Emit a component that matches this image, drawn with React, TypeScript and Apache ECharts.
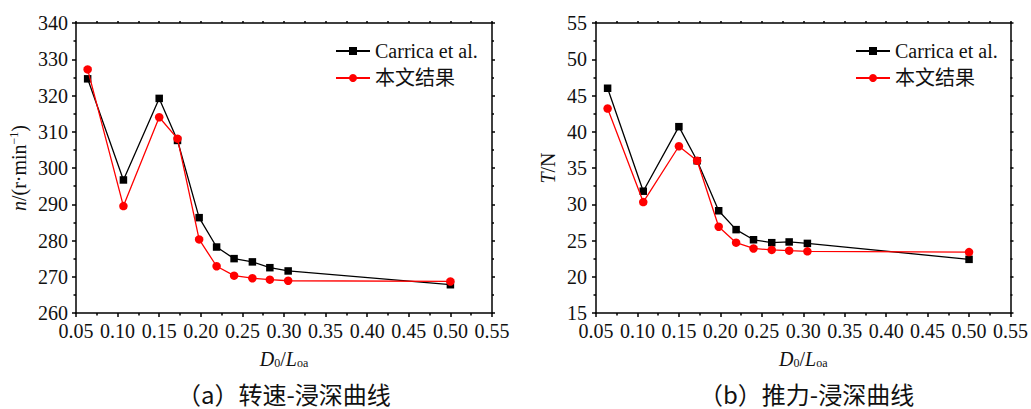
import React, { useEffect, useRef } from "react";
import * as echarts from "echarts";

const xValues = [0.064, 0.107, 0.150, 0.172, 0.198, 0.219, 0.240, 0.262, 0.283, 0.305, 0.500];
const speedCarrica = [324.6, 296.7, 319.2, 307.6, 286.3, 278.2, 275.0, 274.1, 272.5, 271.6, 267.8];
const speedOurs = [327.2, 289.5, 314.0, 308.1, 280.3, 272.9, 270.3, 269.6, 269.2, 268.9, 268.7];
const thrustCarrica = [46.0, 31.8, 40.7, 36.0, 29.1, 26.5, 25.1, 24.7, 24.8, 24.6, 22.4];
const thrustOurs = [43.2, 30.3, 38.0, 36.0, 26.9, 24.7, 23.9, 23.7, 23.6, 23.5, 23.4];
const seriesNames = ["Carrica et al.", "本文结果"];
const captions = ["（a）转速-浸深曲线", "（b）推力-浸深曲线"];

const SERIF = "'Times New Roman', 'Liberation Serif', serif";
const LEGEND_FONT = "'Times New Roman', 'Liberation Serif', 'Noto Sans CJK SC', serif";
const TXT = "#111";

function pts(ys: number[]) {
  return xValues.map((x, i) => [x, ys[i]]);
}

export default function App() {
  const ref = useRef<HTMLDivElement>(null);
  useEffect(() => {
    if (!ref.current) return;
    const chart = echarts.init(ref.current, null, { renderer: "svg" });
    const grids = [
      { left: 76, top: 23, width: 416, height: 290 },
      { left: 596, top: 23, width: 417, height: 290 },
    ];
    const lineStyle = { color: "#000", width: 1.5 };
    const xAxes: any[] = [];
    const yAxes: any[] = [];
    const yRanges = [
      { min: 260, max: 340, interval: 10 },
      { min: 15, max: 55, interval: 5 },
    ];
    grids.forEach((g, gi) => {
      xAxes.push({
        type: "value",
        gridIndex: gi,
        min: 0.05,
        max: 0.55,
        interval: 0.05,
        position: "bottom",
        axisLine: { show: true, onZero: false, lineStyle },
        axisTick: { show: true, inside: false, length: 4, lineStyle },
        minorTick: { show: true, splitNumber: 2, length: 2.5, lineStyle },
        splitLine: { show: false },
        axisLabel: {
          color: TXT,
          fontFamily: SERIF,
          fontSize: 20,
          lineHeight: 15,
          margin: 10,
          formatter: (v: number) => v.toFixed(2),
        },
        name: "{i|D}{s|0}{n|/}{i|L}{s|oa}",
        nameLocation: "middle",
        nameGap: 36,
        nameTextStyle: {
          rich: {
            i: { fontFamily: SERIF, fontStyle: "italic", fontSize: 20, color: TXT },
            n: { fontFamily: SERIF, fontSize: 20, color: TXT },
            s: { fontFamily: SERIF, fontSize: 12, color: TXT, verticalAlign: "bottom", padding: [8, 0, 0, 0] },
          },
        },
      });
      xAxes.push({
        type: "value",
        gridIndex: gi,
        min: 0.05,
        max: 0.55,
        interval: 0.05,
        position: "top",
        axisLine: { show: true, onZero: false, lineStyle },
        axisTick: { show: true, inside: false, length: 2, lineStyle },
        minorTick: { show: true, splitNumber: 2, length: 2, lineStyle },
        splitLine: { show: false },
        axisLabel: { show: false },
      });
      const r = yRanges[gi];
      yAxes.push({
        type: "value",
        gridIndex: gi,
        min: r.min,
        max: r.max,
        interval: r.interval,
        position: "left",
        axisLine: { show: true, onZero: false, lineStyle },
        axisTick: { show: true, inside: false, length: 4, lineStyle },
        minorTick: { show: true, splitNumber: 2, length: 2.5, lineStyle },
        splitLine: { show: false },
        axisLabel: { color: TXT, fontFamily: SERIF, fontSize: 20, lineHeight: 14, margin: gi === 0 ? 8 : 9 },
        name: gi === 0 ? "{i|n}{n|/(r·min}{p|−1}{n|)}" : "{i|T}{n|/N}",
        nameLocation: "middle",
        nameGap: gi === 0 ? 46 : 38,
        nameTextStyle: {
          rich: {
            i: { fontFamily: SERIF, fontStyle: "italic", fontSize: 20, color: TXT },
            n: { fontFamily: SERIF, fontSize: 20, color: TXT },
            p: { fontFamily: SERIF, fontSize: 12, color: TXT, verticalAlign: "top", padding: [0, 0, 10, 0] },
          },
        },
      });
      yAxes.push({
        type: "value",
        gridIndex: gi,
        min: r.min,
        max: r.max,
        interval: r.interval,
        position: "right",
        axisLine: { show: true, onZero: false, lineStyle },
        axisTick: { show: true, inside: false, length: 3, lineStyle },
        minorTick: { show: true, splitNumber: 2, length: 2, lineStyle },
        splitLine: { show: false },
        axisLabel: { show: false },
      });
    });

    const mk = (name: string, data: number[], gi: number, black: boolean) => ({
      type: "line",
      name,
      xAxisIndex: gi * 2,
      yAxisIndex: gi * 2,
      data: pts(data),
      symbol: black ? "rect" : "circle",
      symbolSize: black ? 7.5 : 8.5,
      showSymbol: true,
      lineStyle: { color: black ? "#000" : "#ff0000", width: 1.3 },
      itemStyle: { color: black ? "#000" : "#ff0000", borderWidth: 0 },
      z: black ? 2 : 3,
    });

    const series = [
      mk(seriesNames[0], speedCarrica, 0, true),
      mk(seriesNames[1], speedOurs, 0, false),
      mk(seriesNames[0], thrustCarrica, 1, true),
      mk(seriesNames[1], thrustOurs, 1, false),
    ];

    const legendBase = {
      orient: "vertical",
      top: 36,
      itemWidth: 34,
      itemHeight: 10,
      itemGap: 7,
      data: seriesNames,
      textStyle: { fontFamily: LEGEND_FONT, fontSize: 20, color: TXT },
      selectedMode: false,
    };

    chart.setOption({
      animation: false,
      grid: grids.map((g) => ({ ...g, containLabel: false })),
      xAxis: xAxes,
      yAxis: yAxes,
      series,
      legend: [
        { ...legendBase, left: 330 },
        { ...legendBase, left: 850 },
      ],
      graphic: [
        {
          type: "text",
          left: 177,
          top: 381,
          style: { text: captions[0], font: "24px 'Noto Sans CJK SC', sans-serif", fill: TXT },
        },
        {
          type: "text",
          left: 699,
          top: 381,
          style: { text: captions[1], font: "24px 'Noto Sans CJK SC', sans-serif", fill: TXT },
        },
      ],
    });
    return () => chart.dispose();
  }, []);
  return (
    <div
      ref={ref}
      style={{ position: "absolute", left: 0, top: 0, width: 1031, height: 409, background: "#fff" }}
    />
  );
}
